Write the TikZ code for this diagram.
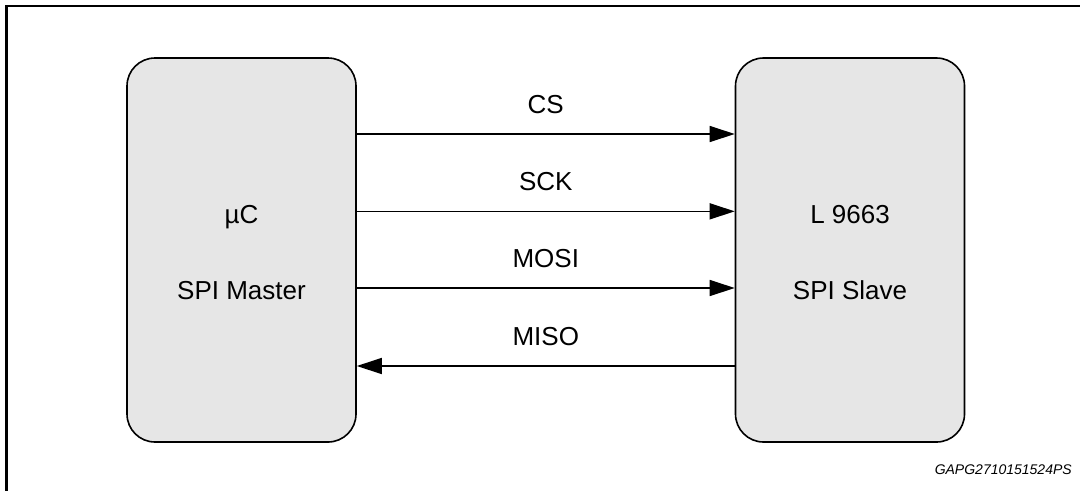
\documentclass[tikz,border=0pt]{standalone}
\usepackage{fontspec}
\setmainfont{Liberation Sans}
\usetikzlibrary{arrows.meta}
\definecolor{boxgray}{HTML}{E6E6E6}
\begin{document}
\begin{tikzpicture}[x=0.75pt,y=-0.75pt,
  blockbox/.style={draw=black,line width=1.2pt,fill=boxgray,rounded corners=21pt,
    minimum width=171.75pt,minimum height=288pt,inner sep=0pt},
  sig/.style={draw=black,line width=1.1pt,-{Triangle[length=18.75pt,width=12pt]}},
  lbl/.style={font=\fontsize{19.5}{22}\selectfont,inner sep=0pt,anchor=base},
  frameline/.style={draw=black,line width=2.2pt}]
\useasboundingbox (0,0) rectangle (1080,490);
% frame
\coordinate (ftl) at (6.5,6);
\coordinate (ftr) at (1082,6);
\coordinate (fbl) at (6.5,492);
\draw[frameline] (fbl) -- (ftl) -- (ftr);
% blocks
\node[blockbox] (m) at (241.5,250) {};
\node[blockbox] (s) at (850,250) {};
\node[lbl] (m1) at (241.5,223) {µC};
\node[lbl] (m2) at (241.5,299) {SPI Master};
\node[lbl] (s1) at (850,223) {L 9663};
\node[lbl] (s2) at (850,299) {SPI Slave};
% signals
\draw[sig] ([yshift=87pt]m.east) -- node[lbl,above=15pt] (lcs) {CS} ([yshift=87pt]s.west);
\draw[sig] ([yshift=29pt]m.east) -- node[lbl,above=15pt] (lsck) {SCK} ([yshift=29pt]s.west);
\draw[sig] ([yshift=-28.5pt]m.east) -- node[lbl,above=15pt] (lmosi) {MOSI} ([yshift=-28.5pt]s.west);
\draw[sig] ([yshift=-87pt]s.west) -- node[lbl,above=15pt] (lmiso) {MISO} ([yshift=-87pt]m.east);
% footer
\node[font=\fontsize{10.5}{12}\selectfont\itshape,anchor=base east,inner sep=0pt] (code) at (1072,474) {GAPG2710151524PS};
\end{tikzpicture}
\end{document}
